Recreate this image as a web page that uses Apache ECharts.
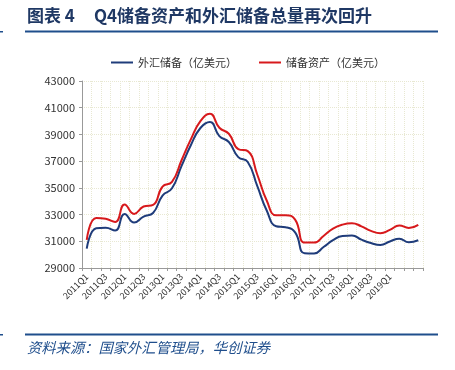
<!DOCTYPE html>
<html>
<head>
<meta charset="utf-8">
<script src="https://cdn.jsdelivr.net/npm/echarts@6/dist/echarts.min.js"></script>
<style>html,body{margin:0;padding:0;background:#fff;}#c{width:455px;height:370px;}</style>
</head>
<body>
<div id="c"></div>
<script>
var categories = ['2011Q1','2011Q2','2011Q3','2011Q4','2012Q1','2012Q2','2012Q3','2012Q4',
'2013Q1','2013Q2','2013Q3','2013Q4','2014Q1','2014Q2','2014Q3','2014Q4',
'2015Q1','2015Q2','2015Q3','2015Q4','2016Q1','2016Q2','2016Q3','2016Q4',
'2017Q1','2017Q2','2017Q3','2017Q4','2018Q1','2018Q2','2018Q3','2018Q4',
'2019Q1','2019Q2','2019Q3','2019Q4'];
var fxReserves = [30447,31975,32017,31811,33050,32400,32851,33116,
34426,34967,36627,38213,39481,39932,38877,38430,
37301,36939,35141,33304,32126,32052,31664,30105,
30091,30568,31085,31399,31428,31121,30870,30727,
30988,31192,30924,31079];
var reserveAssets = [31100,32750,32680,32450,33750,33050,33600,33720,
35100,35450,37050,38650,40000,40550,39500,39050,
37900,37750,36000,34050,32950,32950,32620,30900,
30900,31400,31950,32250,32350,32120,31780,31600,
31850,32180,32000,32230];
var yTicks = [29000,31000,33000,35000,37000,39000,41000,43000];
var seriesNames = ['外汇储备（亿美元）','储备资产（亿美元）'];
var lastLabeled = '2019Q1';

var chart = echarts.init(document.getElementById('c'), null, {renderer:'canvas'});
var font = '"Noto Sans CJK SC", "Liberation Sans", sans-serif';
var lastIdx = categories.indexOf(lastLabeled);
chart.setOption({
  animation:false,
  backgroundColor:'#ffffff',
  textStyle:{fontFamily:font},
  graphic:[
    {type:'text', left:27, top:7, style:{text:'图表 4', fill:'#1F3864', font:'bold 17px "Noto Sans CJK SC"'}},
    {type:'text', left:94, top:7, style:{text:'Q4储备资产和外汇储备总量再次回升', fill:'#1F3864', font:'bold 17px "Noto Sans CJK SC"'}},
    {type:'rect', shape:{x:25,y:30.5,width:413,height:2}, style:{fill:'#1F4E8C'}},
    {type:'rect', shape:{x:0,y:31,width:3,height:1.5}, style:{fill:'#1F4E8C'}},
    {type:'rect', shape:{x:25,y:333.5,width:413,height:2}, style:{fill:'#1F4E8C'}},
    {type:'rect', shape:{x:0,y:334,width:3,height:1.5}, style:{fill:'#1F4E8C'}},
    {type:'text', left:27, top:340, style:{text:'资料来源：国家外汇管理局，华创证券', fill:'#1F4E8C', font:'italic 14.3px "Noto Sans CJK SC"'}}
  ],
  legend:{
    left:106, top:52, itemWidth:22, itemHeight:2, itemGap:22, icon:'rect',
    textStyle:{fontSize:11, color:'#333'},
    data:seriesNames
  },
  grid:{left:82, right:32, top:81, bottom:102, containLabel:false},
  xAxis:{
    type:'category', data:categories, boundaryGap:true,
    axisLine:{lineStyle:{color:'#999', width:1}},
    axisTick:{show:true, length:3, interval:0, lineStyle:{color:'#999'}},
    axisLabel:{interval:1, rotate:45, fontSize:9, color:'#333', margin:7,
      formatter:function(v, i){ return i > lastIdx ? '' : v; }},
    splitLine:{show:true, interval:0, lineStyle:{color:'#e8e8d2', type:'dotted', width:1}}
  },
  yAxis:{
    type:'value', min:yTicks[0], max:yTicks[yTicks.length-1], interval:2000,
    axisLine:{show:true, lineStyle:{color:'#999'}},
    axisTick:{show:true, length:3, lineStyle:{color:'#999'}},
    axisLabel:{fontSize:11, color:'#333', margin:7, formatter:function(v){ return String(v); }},
    splitLine:{show:true, lineStyle:{color:'#e8e8d2', type:'dotted', width:1}}
  },
  series:[
    {name:seriesNames[0], type:'line', data:fxReserves, smooth:0.5, showSymbol:false, symbol:'none',
     lineStyle:{color:'#1F3C7A', width:2}, itemStyle:{color:'#1F3C7A'}},
    {name:seriesNames[1], type:'line', data:reserveAssets, smooth:0.5, showSymbol:false, symbol:'none',
     lineStyle:{color:'#D7191C', width:2}, itemStyle:{color:'#D7191C'}}
  ]
});
</script>
</body>
</html>
